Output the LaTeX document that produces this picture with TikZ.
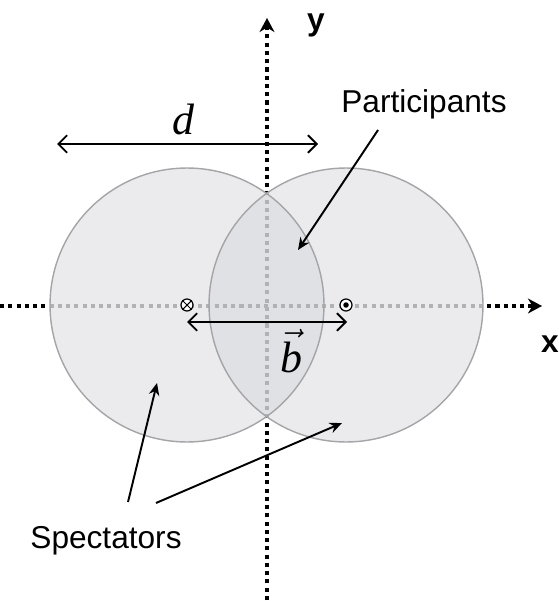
\documentclass[tikz,border=0pt]{standalone}
\usepackage{fontspec}
\setmainfont{Liberation Serif}
\setsansfont{Liberation Sans}
\usepackage{tikz}
\usetikzlibrary{arrows.meta,positioning,calc}
\definecolor{disc}{RGB}{235,235,238}
\definecolor{overlap}{RGB}{224,225,229}
\definecolor{rim}{RGB}{165,165,168}
\definecolor{axisgrey}{RGB}{178,178,182}

\begin{document}
\begin{tikzpicture}[x=0.02cm,y=-0.02cm,
    axis/.style={line width=2.3pt,dash pattern=on 2.3pt off 2.4pt,-{Stealth[length=8pt,width=8.5pt]}},
    span/.style={line width=1.1pt,{Straight Barb[length=5pt,width=10pt]}-{Straight Barb[length=5pt,width=10pt]}},
    pointer/.style={line width=1.1pt,-{Stealth[length=7pt,width=6pt]}},
    word/.style={font=\sffamily\fontsize{18}{20}\selectfont,inner sep=0pt},
    axlabel/.style={font=\sffamily\bfseries\fontsize{18}{20}\selectfont,inner sep=0pt},
    mathlabel/.style={font=\fontsize{25}{27}\selectfont,inner sep=0pt},
    marker/.style={circle,draw,line width=0.7pt,fill=white,minimum size=0.24cm,inner sep=0pt}]
    \useasboundingbox (0,0) rectangle (558,601);

    % nuclei centres
    \coordinate (lc) at (187,305);
    \coordinate (rc) at (346,305);

    % axes
    \coordinate (xstart) at (0,306);
    \coordinate (xend) at (542,306);
    \coordinate (ystart) at (267,600);
    \coordinate (yend) at (267,18);
    \draw[axis] (xstart) -- (xend);
    \draw[axis] (ystart) -- (yend);

    % discs
    \fill[disc] (lc) circle (2.74cm);
    \fill[disc] (rc) circle (2.74cm);
    \begin{scope}
        \clip (lc) circle (2.74cm);
        \fill[overlap] (rc) circle (2.74cm);
    \end{scope}
    \begin{scope}
        \clip (lc) circle (2.74cm) (rc) circle (2.74cm);
        \draw[axis,axisgrey,-] (xstart) -- (xend);
        \draw[axis,axisgrey,-] (ystart) -- (yend);
    \end{scope}
    \draw[rim,line width=0.8pt] (lc) circle (2.74cm);
    \draw[rim,line width=0.8pt] (rc) circle (2.74cm);

    % nucleus markers
    \node[marker] (into) at (lc) {};
    \draw[line width=0.6pt] (into.north west) -- (into.south east);
    \draw[line width=0.6pt] (into.north east) -- (into.south west);
    \node[marker] (out) at (rc) {};
    \fill (out.center) circle (0.055cm);

    % labels
    \node[axlabel,anchor=base] (ylab) at (316,31) {y};
    \node[axlabel,anchor=base] (xlab) at (550,352) {x};
    \node[mathlabel,anchor=base] (dlab) at (183,135) {\itshape d};
    \node[mathlabel,anchor=base] (blab) at (291,372) {$\vec{\textit{b}}$};
    \node[word,anchor=base] (part) at (424,113) {Participants};
    \node[word,anchor=base] (spec) at (106,548) {Spectators};

    % diameter and impact parameter
    \coordinate (dl) at (57,144);
    \coordinate (dr) at (318,144);
    \draw[span] (dl) -- (dr);
    \coordinate (bl) at (187,322);
    \coordinate (br) at (347,322);
    \draw[span] (bl) -- (br);

    % pointers
    \coordinate (pt) at (378,130);
    \coordinate (ph) at (298,250);
    \draw[pointer] (pt) -- (ph);
    \coordinate (st1) at (128,502);
    \coordinate (sh1) at (157,383);
    \draw[pointer] (st1) -- (sh1);
    \coordinate (st2) at (156,503);
    \coordinate (sh2) at (342,423);
    \draw[pointer] (st2) -- (sh2);
\end{tikzpicture}
\end{document}
